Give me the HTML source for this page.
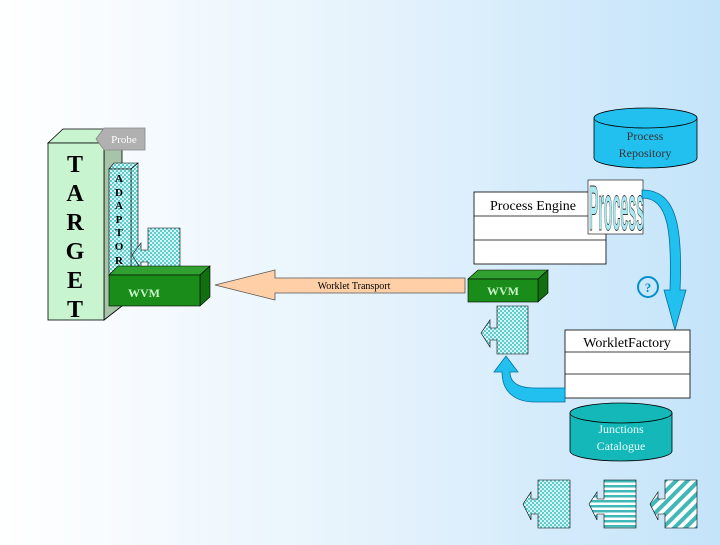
<!DOCTYPE html>
<html><head><style>
html,body{margin:0;padding:0;}
body{width:720px;height:540px;overflow:hidden;background:linear-gradient(90deg,#ffffff 0%,#e6f3fc 50%,#c4e4fa 100%);font-family:"Liberation Serif",serif;}
</style></head><body>
<svg width="720" height="540" viewBox="0 0 720 540" xmlns="http://www.w3.org/2000/svg" font-family="Liberation Serif, serif">
<defs>
<pattern id="chk" width="4" height="4" patternUnits="userSpaceOnUse">
<rect width="4" height="4" fill="#5ccccc"/><rect width="2" height="2" fill="#d8f4f4"/><rect x="2" y="2" width="2" height="2" fill="#d8f4f4"/>
</pattern>
<pattern id="hstr" width="6" height="5" patternUnits="userSpaceOnUse">
<rect width="6" height="5" fill="#fff"/><rect width="6" height="2.5" fill="#40b8b8"/>
</pattern>
<pattern id="dstr" width="8" height="8" patternUnits="userSpaceOnUse" patternTransform="rotate(45)">
<rect width="8" height="8" fill="#fff"/><rect width="4" height="8" fill="#40b8b8"/>
</pattern>
</defs>
<!-- TARGET -->
<polygon points="48,143 63,129 122,129 104,143" fill="#c8f5d0" stroke="#000" stroke-width="0.8"/>
<polygon points="104,143 122,129 122,306 104,320" fill="#a8c4a8" stroke="#000" stroke-width="0.8"/>
<rect x="48" y="143" width="56" height="177" fill="#c8f5d0" stroke="#000" stroke-width="0.8"/>
<g font-size="24" font-weight="bold" text-anchor="middle">
<text x="75" y="172">T</text><text x="75" y="201">A</text><text x="75" y="230">R</text>
<text x="75" y="259">G</text><text x="75" y="288">E</text><text x="75" y="317">T</text></g>
<!-- Probe -->
<polygon points="96,139 104,128 145,128 145,150 104,150" fill="#b0b0b0" stroke="#888" stroke-width="0.8"/>
<text x="124" y="143" font-size="11" fill="#fff" text-anchor="middle">Probe</text>
<!-- ADAPTOR -->
<polygon points="109,169 114,163 138,163 131,169" fill="url(#chk)" stroke="#000" stroke-width="0.6"/>
<polygon points="131,169 138,163 138,270 131,275" fill="url(#chk)" stroke="#000" stroke-width="0.6"/>
<rect x="109" y="169" width="22" height="106" fill="url(#chk)" stroke="#000" stroke-width="0.6"/>
<g font-size="11" font-weight="bold" text-anchor="middle">
<text x="119" y="182">A</text><text x="119" y="196">D</text><text x="119" y="209">A</text>
<text x="119" y="223">P</text><text x="119" y="236">T</text><text x="119" y="250">O</text><text x="119" y="264">R</text></g>
<!-- piece -->
<polygon points="148,228 180,228 180,276 148,276 148,262 141,262 141,269 132,255 141,243 141,250 148,250" fill="url(#chk)" stroke="#000" stroke-width="0.6"/>
<!-- WVM left -->
<polygon points="109,275 118,266 210,266 200,275" fill="#30a030" stroke="#000" stroke-width="0.6"/>
<polygon points="200,275 210,266 210,297 200,306" fill="#107010" stroke="#000" stroke-width="0.6"/>
<rect x="109" y="275" width="91" height="31" fill="#1a8c1a" stroke="#000" stroke-width="0.6"/>
<text x="144" y="297" font-size="12" fill="#c8f5c8" font-weight="bold" text-anchor="middle">WVM</text>
<!-- Transport arrow -->
<polygon points="215,285 275,270 275,278 465,278 465,293 275,293 275,300" fill="#ffd0a8" stroke="#555" stroke-width="0.8"/>
<text x="354" y="289" font-size="10" text-anchor="middle">Worklet Transport</text>
<!-- Process Repository -->
<path d="M594,118 L594,158 A51.5,10 0 0 0 697,158 L697,118" fill="#22c0ee" stroke="#000" stroke-width="0.8"/>
<ellipse cx="645.5" cy="118" rx="51.5" ry="10" fill="#22c0ee" stroke="#000" stroke-width="0.8"/>
<text x="645" y="140" font-size="12" fill="#333" text-anchor="middle">Process</text>
<text x="645" y="157" font-size="12" fill="#333" text-anchor="middle">Repository</text>
<!-- Process Engine -->
<rect x="474" y="192" width="132" height="72" fill="#fff" stroke="#000" stroke-width="0.8"/>
<line x1="474" y1="216" x2="606" y2="216" stroke="#000" stroke-width="0.8"/>
<line x1="474" y1="240" x2="606" y2="240" stroke="#000" stroke-width="0.8"/>
<text x="490" y="210" font-size="14">Process Engine</text>
<!-- Process wordart -->
<rect x="588" y="180" width="55" height="54" fill="#fff" stroke="#000" stroke-width="0.6"/>
<text x="589" y="230" font-size="64" textLength="55" lengthAdjust="spacingAndGlyphs" font-family="Liberation Sans, sans-serif" font-weight="bold" fill="#a8e8f0" stroke="#333" stroke-width="1">Process</text>
<!-- blue arrow down -->
<path d="M642,198 C668,198 672,230 670,290 L664,290 L675,330 L686,290 L680,290 C683,225 676,190 642,190 Z" fill="#22c0ee" stroke="#0070a0" stroke-width="0.8"/>
<!-- WVM right -->
<polygon points="468,279 478,270 548,270 538,279" fill="#30a030" stroke="#000" stroke-width="0.6"/>
<polygon points="538,279 548,270 548,293 538,302" fill="#107010" stroke="#000" stroke-width="0.6"/>
<rect x="468" y="279" width="70" height="23" fill="#1a8c1a" stroke="#000" stroke-width="0.6"/>
<text x="503" y="295" font-size="12" fill="#c8f5c8" font-weight="bold" text-anchor="middle">WVM</text>
<!-- ? -->
<circle cx="648" cy="287" r="10" fill="none" stroke="#0090d0" stroke-width="2"/>
<text x="648" y="292" font-size="13" font-weight="bold" fill="#0090d0" text-anchor="middle">?</text>
<!-- piece right -->
<polygon points="497,306 528,306 528,354 497,354 497,340 490,340 490,347 481,333 490,320 490,328 497,328" fill="url(#chk)" stroke="#000" stroke-width="0.6"/>
<!-- WorkletFactory -->
<rect x="565" y="330" width="125" height="68" fill="#fff" stroke="#000" stroke-width="0.8"/>
<line x1="565" y1="352" x2="690" y2="352" stroke="#000" stroke-width="0.8"/>
<line x1="565" y1="374" x2="690" y2="374" stroke="#000" stroke-width="0.8"/>
<text x="627" y="347" font-size="14" text-anchor="middle">WorkletFactory</text>
<!-- blue return arrow -->
<path d="M565,388 L535,388 C515,388 510,380 510,372 L518,372 L506,356 L494,372 L502,372 C502,392 515,402 535,402 L565,402 Z" fill="#22c0ee" stroke="#0070a0" stroke-width="0.8"/>
<!-- Junctions Catalogue -->
<path d="M570,413 L570,451 A51,10 0 0 0 672,451 L672,413" fill="#14b8b8" stroke="#000" stroke-width="0.8"/>
<ellipse cx="621" cy="413" rx="51" ry="10" fill="#14b8b8" stroke="#000" stroke-width="0.8"/>
<text x="621" y="433" font-size="12" fill="#eaffff" text-anchor="middle">Junctions</text>
<text x="621" y="450" font-size="12" fill="#eaffff" text-anchor="middle">Catalogue</text>
<!-- bottom pieces -->
<polygon points="538,480 570,480 570,528 538,528 538,514 531,514 531,520 523,504 531,492 531,499 538,499" fill="url(#chk)" stroke="#000" stroke-width="0.6"/>
<polygon points="604,480 636,480 636,528 604,528 604,514 597,514 597,520 589,504 597,492 597,499 604,499" fill="url(#hstr)" stroke="#000" stroke-width="0.6"/>
<polygon points="665,480 697,480 697,528 665,528 665,514 658,514 658,520 650,504 658,492 658,499 665,499" fill="url(#dstr)" stroke="#000" stroke-width="0.6"/>
</svg>
</body></html>
